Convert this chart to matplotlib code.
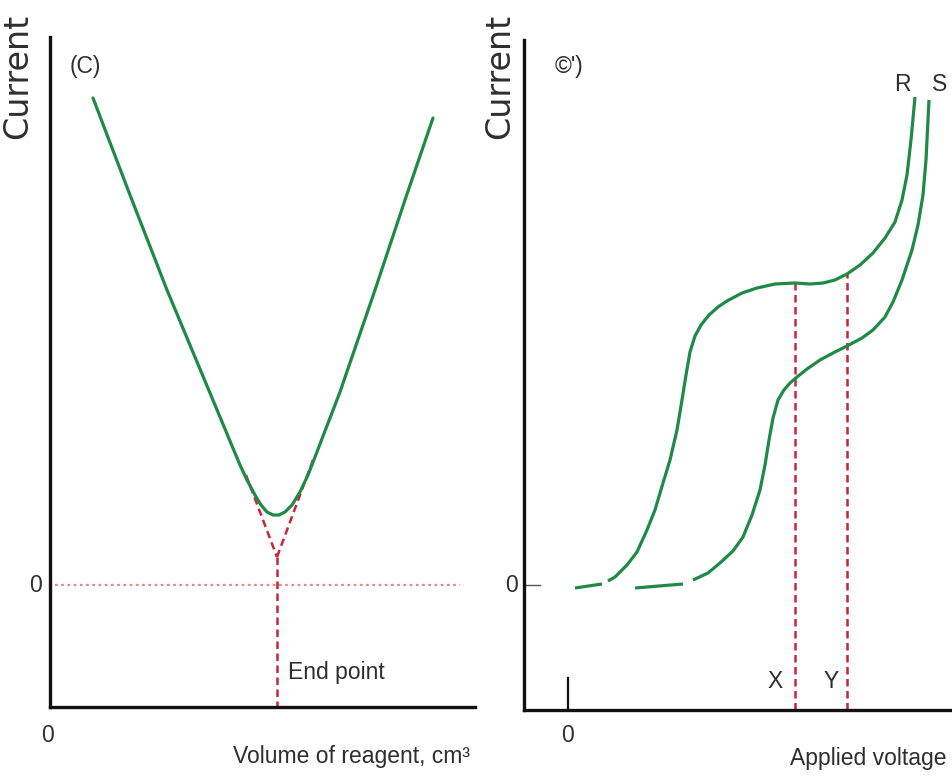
import matplotlib
matplotlib.use("Agg")
import matplotlib.pyplot as plt
import numpy as np
from matplotlib import font_manager

# ---------------- data ----------------
# Left panel (C): amperometric titration curve
vol = [4.3, 8.0, 11.7, 16.0, 19.0, 19.7, 20.5, 21.1, 21.7, 22.3, 22.9, 23.5,
       24.2, 25.0, 25.8, 26.5, 29.0, 32.5, 35.5, 38.3]
cur_c = [48.7, 39.0, 29.5, 19.2, 12.0, 10.5, 9.0, 8.0, 7.3, 7.0, 7.0, 7.3,
         8.0, 9.3, 11.0, 12.8, 19.3, 29.5, 38.5, 46.7]
end_point = 22.7
tangent_left_x = [19.6, 22.7]
tangent_left_y = [11.0, 2.8]
tangent_right_x = [26.3, 22.7]
tangent_right_y = [12.5, 2.8]

# Right panel (C'): current-voltage curves R and S
r_volt = [0.7, 3.4, np.nan, 4.0, 4.7, 5.9, 6.9, 7.9, 8.7, 9.5, 10.2, 10.9, 11.4,
          11.8, 12.2, 12.7, 13.3, 14.1, 15.0, 15.9, 17.4, 18.9, 20.7, 22.7,
          24.2, 25.5, 26.7, 27.9, 29.2, 30.5, 31.7, 32.7, 33.4, 33.9, 34.3, 34.7]
r_cur = [-0.3, 0.1, np.nan, 0.4, 0.8, 2.0, 3.3, 5.5, 7.5, 10.2, 12.5, 15.5, 18.5,
         21.0, 23.3, 24.9, 26.0, 27.0, 27.8, 28.4, 29.2, 29.7, 30.1, 30.2,
         30.1, 30.2, 30.5, 31.1, 32.0, 33.2, 34.7, 36.3, 38.5, 41.0, 44.5, 48.8]
s_volt = [6.7, 11.5, np.nan, 12.5, 14.0, 15.2, 16.5, 17.5, 18.4, 19.2, 19.7, 20.1,
          20.5, 21.0, 21.6, 22.2, 22.9, 23.9, 25.2, 26.7, 27.9, 29.4, 30.5,
          31.7, 32.5, 33.4, 34.4, 35.0, 35.5, 35.8, 36.1]
s_cur = [-0.3, 0.1, np.nan, 0.5, 1.2, 2.2, 3.4, 4.8, 7.0, 9.5, 12.0, 14.5,
         16.7, 18.5, 19.5, 20.2, 20.8, 21.6, 22.5, 23.3, 23.9, 24.7, 25.5,
         26.8, 28.3, 30.5, 33.5, 36.0, 39.0, 42.5, 48.5]
x_volt = 22.7
x_cur = 30.2
y_volt = 27.9
y_cur = 31.1

# ---------------- styling ----------------
names = {f.name for f in font_manager.fontManager.ttflist}
if "Liberation Sans Narrow" in names:
    FONT = "Liberation Sans Narrow"
    FS = 19.5
else:
    FONT = "Liberation Sans"
    FS = 16.5
TXT = "#2e2e2e"
GREEN = "#1f8a45"
RED = "#cf2238"
PINK = "#e28a8a"

W, H = 953, 783
fig = plt.figure(figsize=(W / 100, H / 100), dpi=100)
fig.patch.set_facecolor("white")


def px_axes(x0, y0, x1, y1):
    return fig.add_axes([x0 / W, 1 - y1 / H, (x1 - x0) / W, (y1 - y0) / H])


def style(ax):
    for s in ("top", "right"):
        ax.spines[s].set_visible(False)
    for s in ("left", "bottom"):
        ax.spines[s].set_linewidth(2.4)
        ax.spines[s].set_color("#111111")
    ax.set_xticks([])
    ax.set_yticks([])
    ax.patch.set_alpha(0)


tk = dict(fontfamily=FONT, fontsize=FS, color=TXT, clip_on=False)
dash = (0, (3, 1.8))

# ---------------- left panel ----------------
axL = px_axes(50, 37, 475, 707)
style(axL)
axL.set_xlim(0, 42.5)
axL.set_ylim(-12.2, 54.8)
axL.plot([0.5, 41.0], [0, 0], color=PINK, lw=1.6, ls=(0, (1.2, 1.6)))
axL.plot(tangent_left_x, tangent_left_y, color=RED, lw=1.8, ls=dash)
axL.plot(tangent_right_x, tangent_right_y, color=RED, lw=1.8, ls=dash)
axL.plot([end_point, end_point], [tangent_left_y[1], -12.2], color=RED, lw=1.8, ls=dash)
axL.plot(vol, cur_c, color=GREEN, lw=2.3, solid_capstyle="round", solid_joinstyle="round")
axL.text(-1.5, 0, "0", ha="center", va="center", **tk)
axL.text(-0.2, -15.0, "0", ha="center", va="center", **tk)
axL.text(23.8, -8.7, "End point", ha="left", va="center", **tk)
axL.text(42.0, -17.2, "Volume of reagent, cm³", ha="right", va="center", **tk)
axL.text(2.0, 51.8, "(C)", ha="left", va="center", **tk)
fig.text(18 / W, 1 - 76 / H, "Current", rotation=90, ha="center", va="center",
         fontfamily="DejaVu Sans", fontsize=24, color=TXT)

# ---------------- right panel ----------------
axR = px_axes(524, 40, 953, 710)
style(axR)
axR.set_xlim(-4.4, 38.5)
axR.set_ylim(-12.5, 54.5)
axR.plot([x_volt, x_volt], [-12.5, x_cur], color=RED, lw=1.8, ls=dash)
axR.plot([y_volt, y_volt], [-12.5, y_cur], color=RED, lw=1.8, ls=dash)
axR.plot(r_volt, r_cur, color=GREEN, lw=2.3, solid_capstyle="butt", solid_joinstyle="round")
axR.plot(s_volt, s_cur, color=GREEN, lw=2.3, solid_capstyle="butt", solid_joinstyle="round")
axR.plot([0, 0], [-9.3, -12.5], color="#111111", lw=1.6)
axR.plot([-4.3, -2.8], [0, 0], color="#555555", lw=1.0)
axR.text(-5.6, 0, "0", ha="center", va="center", **tk)
axR.text(0, -15.0, "0", ha="center", va="center", **tk)
axR.text(20.7, -9.7, "X", ha="center", va="center", **tk)
axR.text(26.3, -9.7, "Y", ha="center", va="center", **tk)
axR.text(33.4, 50.0, "R", ha="center", va="center", **tk)
axR.text(37.2, 50.0, "S", ha="center", va="center", **tk)
axR.text(30.0, -17.3, "Applied voltage", ha="center", va="center", **tk)
axR.text(-1.3, 51.8, "©')", ha="left", va="center", **tk)
fig.text(500 / W, 1 - 76 / H, "Current", rotation=90, ha="center", va="center",
         fontfamily="DejaVu Sans", fontsize=24, color=TXT)

fig.savefig("out.png", dpi=100, facecolor="white")
